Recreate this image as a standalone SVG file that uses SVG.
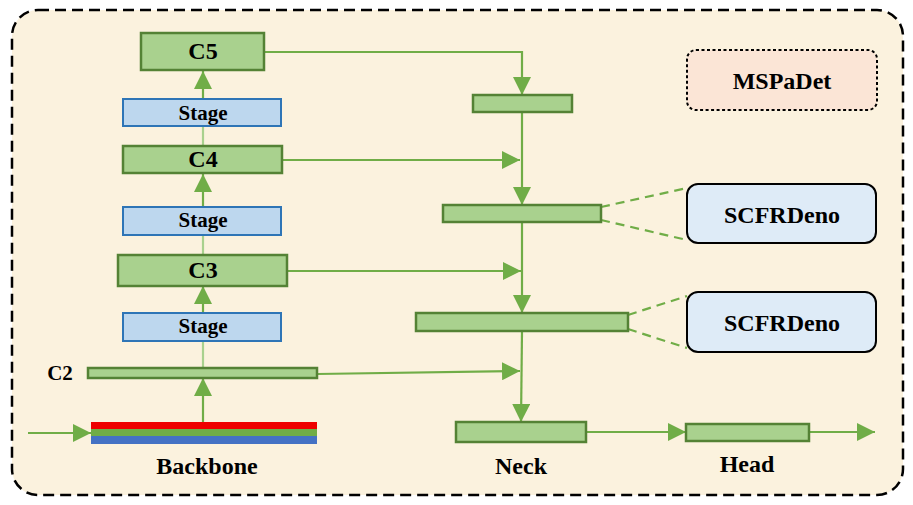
<svg xmlns="http://www.w3.org/2000/svg" width="913" height="505" viewBox="0 0 913 505">
<defs>
<marker id="ah" markerUnits="userSpaceOnUse" markerWidth="18" markerHeight="18" viewBox="0 0 16 16" refX="16" refY="8" orient="auto">
<path d="M0,0 L16,8 L0,16 Z" fill="#70AD47"/>
</marker>
<style>
.g{fill:#A9D18E;stroke:#548235;stroke-width:2.5}
.s{fill:#BDD7EE;stroke:#2E75B6;stroke-width:2}
.t{font-family:'Liberation Serif','DejaVu Serif',serif;font-weight:700;fill:#000;text-anchor:middle}
.l{stroke:#70AD47;stroke-width:2.2;fill:none}
.lt{stroke:#A9D18E;stroke-width:2.2;fill:none}
.d{stroke:#70AD47;stroke-width:2.2;fill:none;stroke-dasharray:9,6}
.sc{fill:#DEEBF7;stroke:#000;stroke-width:2}
</style>
</defs>
<rect x="12" y="10" width="891" height="485" rx="26" fill="#FBF2DE" stroke="#000" stroke-width="2.5" stroke-dasharray="11,6"/>
<g id="connectors">
<line class="l" x1="203" y1="99" x2="203" y2="71" marker-end="url(#ah)"/>
<line class="lt" x1="203" y1="146" x2="203" y2="126"/>
<line class="l" x1="203" y1="207" x2="203" y2="174" marker-end="url(#ah)"/>
<line class="lt" x1="203" y1="255" x2="203" y2="235"/>
<line class="l" x1="203" y1="313" x2="203" y2="286" marker-end="url(#ah)"/>
<line class="lt" x1="203" y1="368" x2="203" y2="341"/>
<line class="l" x1="203" y1="422" x2="203" y2="378" marker-end="url(#ah)"/>
<line class="l" x1="28" y1="433" x2="91" y2="433" marker-end="url(#ah)"/>
<polyline class="l" points="264,52 522,52 522,95" marker-end="url(#ah)"/>
<line class="l" x1="282" y1="160" x2="520" y2="160" marker-end="url(#ah)"/>
<line class="l" x1="287" y1="271" x2="521" y2="271" marker-end="url(#ah)"/>
<line class="l" x1="317" y1="374" x2="520" y2="371" marker-end="url(#ah)"/>
<line class="l" x1="522" y1="112" x2="522" y2="205" marker-end="url(#ah)"/>
<line class="l" x1="522" y1="222" x2="522" y2="313" marker-end="url(#ah)"/>
<line class="l" x1="522" y1="331" x2="521" y2="422" marker-end="url(#ah)"/>
<line class="l" x1="586" y1="432" x2="686" y2="432" marker-end="url(#ah)"/>
<line class="l" x1="809" y1="432" x2="875" y2="432" marker-end="url(#ah)"/>
<line class="d" x1="601" y1="207" x2="687" y2="188"/>
<line class="d" x1="601" y1="220" x2="687" y2="240"/>
<line class="d" x1="628" y1="315" x2="687" y2="296"/>
<line class="d" x1="628" y1="329" x2="687" y2="348"/>
</g>
<g id="c5"><rect class="g" x="141" y="33" width="123" height="37"/><text class="t" x="203" y="59" font-size="24">C5</text></g>
<g id="stage1"><rect class="s" x="123" y="99" width="158" height="27"/><text class="t" x="203" y="120" font-size="21">Stage</text></g>
<g id="c4"><rect class="g" x="123" y="146" width="159" height="27"/><text class="t" x="203" y="167" font-size="24">C4</text></g>
<g id="stage2"><rect class="s" x="123" y="207" width="158" height="28"/><text class="t" x="203" y="227" font-size="21">Stage</text></g>
<g id="c3"><rect class="g" x="118" y="255" width="169" height="31"/><text class="t" x="203" y="278" font-size="24">C3</text></g>
<g id="stage3"><rect class="s" x="123" y="313" width="158" height="28"/><text class="t" x="203" y="333" font-size="21">Stage</text></g>
<g id="c2"><rect class="g" x="88" y="368" width="229" height="10"/><text class="t" x="60" y="380" font-size="21">C2</text></g>
<g id="backbone">
<rect x="91" y="422" width="226" height="7" fill="#EE0000"/>
<rect x="91" y="429" width="226" height="7" fill="#70AD47"/>
<rect x="91" y="436" width="226" height="8" fill="#4472C4"/>
<text class="t" x="207" y="474" font-size="24">Backbone</text>
</g>
<g id="neck1"><rect class="g" x="473" y="95" width="99" height="17"/></g>
<g id="neck2"><rect class="g" x="443" y="205" width="158" height="17"/></g>
<g id="neck3"><rect class="g" x="416" y="313" width="212" height="18"/></g>
<g id="neck4"><rect class="g" x="456" y="422" width="130" height="20"/><text class="t" x="521" y="474" font-size="24">Neck</text></g>
<g id="head"><rect class="g" x="686" y="424" width="123" height="17"/><text class="t" x="747" y="472" font-size="24">Head</text></g>
<g id="mspadet"><rect x="687" y="50" width="190" height="60" rx="9" fill="#FBE5D6" stroke="#000" stroke-width="2" stroke-dasharray="3,2.5"/><text class="t" x="782" y="89" font-size="24">MSPaDet</text></g>
<g id="scfr1"><rect class="sc" x="687" y="184" width="189" height="59" rx="11"/><text class="t" x="782" y="223" font-size="24">SCFRDeno</text></g>
<g id="scfr2"><rect class="sc" x="687" y="292" width="189" height="60" rx="11"/><text class="t" x="782" y="331" font-size="24">SCFRDeno</text></g>
</svg>
